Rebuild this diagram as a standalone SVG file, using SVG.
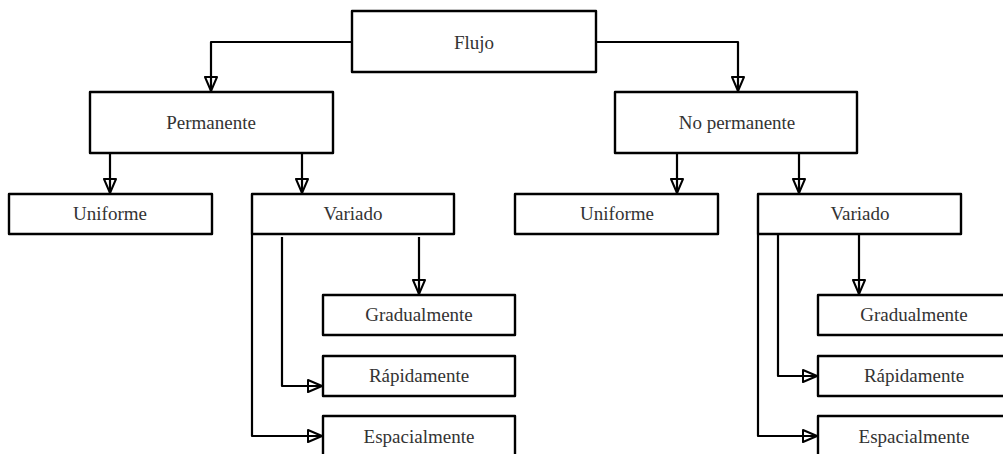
<svg xmlns="http://www.w3.org/2000/svg" width="1003" height="454" viewBox="0 0 1003 454">
<style>
.box{fill:#fff;stroke:#000;stroke-width:2.4;stroke-linejoin:round}
.t{font-family:'Liberation Serif','DejaVu Serif',serif;font-size:19px;fill:#333;text-anchor:middle;dominant-baseline:central}
.c{fill:none;stroke:#000;stroke-width:2.2;stroke-linejoin:round}
</style>
<defs>
<marker id="ah" viewBox="0 0 16 14" refX="15" refY="7" markerWidth="16" markerHeight="14" markerUnits="userSpaceOnUse" orient="auto">
<path d="M1,1 L15,7 L1,13 Z" fill="none" stroke="#000" stroke-width="2" stroke-linejoin="round"/>
</marker>
</defs>
<g id="connectors">
<path class="c" marker-end="url(#ah)" d="M352,42 H211 V91"/>
<path class="c" marker-end="url(#ah)" d="M596,42 H738 V91"/>
<path class="c" marker-end="url(#ah)" d="M110,153 V193"/>
<path class="c" marker-end="url(#ah)" d="M302,153 V193"/>
<path class="c" marker-end="url(#ah)" d="M419,237 V294"/>
<path class="c" marker-end="url(#ah)" d="M282,237 V386 H322"/>
<path class="c" marker-end="url(#ah)" d="M252,234 V436 H322"/>
<path class="c" marker-end="url(#ah)" d="M677,153 V193"/>
<path class="c" marker-end="url(#ah)" d="M799,153 V193"/>
<path class="c" marker-end="url(#ah)" d="M859,234 V294"/>
<path class="c" marker-end="url(#ah)" d="M778,234 V376 H817"/>
<path class="c" marker-end="url(#ah)" d="M758,234 V436 H817"/>
</g>
<g id="flujo"><rect class="box" x="352" y="11" width="244" height="61"/><text class="t" x="474" y="42" font-family="Liberation Serif, serif">Flujo</text></g>
<g id="permanente"><rect class="box" x="90" y="92" width="243" height="61"/><text class="t" x="211" y="122" font-family="Liberation Serif, serif">Permanente</text></g>
<g id="no-permanente"><rect class="box" x="615" y="92" width="242" height="61"/><text class="t" x="737" y="122" font-family="Liberation Serif, serif">No permanente</text></g>
<g id="uniforme-l"><rect class="box" x="9" y="194" width="203" height="40"/><text class="t" x="110" y="213" font-family="Liberation Serif, serif">Uniforme</text></g>
<g id="variado-l"><rect class="box" x="252" y="194" width="202" height="40"/><text class="t" x="353" y="213" font-family="Liberation Serif, serif">Variado</text></g>
<g id="gradualmente-l"><rect class="box" x="323" y="295" width="192" height="40"/><text class="t" x="419" y="314" font-family="Liberation Serif, serif">Gradualmente</text></g>
<g id="rapidamente-l"><rect class="box" x="323" y="356" width="192" height="40"/><text class="t" x="419" y="375" font-family="Liberation Serif, serif">Rápidamente</text></g>
<g id="espacialmente-l"><rect class="box" x="323" y="416" width="192" height="42"/><text class="t" x="419" y="436" font-family="Liberation Serif, serif">Espacialmente</text></g>
<g id="uniforme-r"><rect class="box" x="515" y="194" width="203" height="40"/><text class="t" x="617" y="213" font-family="Liberation Serif, serif">Uniforme</text></g>
<g id="variado-r"><rect class="box" x="758" y="194" width="203" height="40"/><text class="t" x="860" y="213" font-family="Liberation Serif, serif">Variado</text></g>
<g id="gradualmente-r"><rect class="box" x="818" y="295" width="192" height="40"/><text class="t" x="914" y="314" font-family="Liberation Serif, serif">Gradualmente</text></g>
<g id="rapidamente-r"><rect class="box" x="818" y="356" width="192" height="40"/><text class="t" x="914" y="375" font-family="Liberation Serif, serif">Rápidamente</text></g>
<g id="espacialmente-r"><rect class="box" x="818" y="416" width="192" height="42"/><text class="t" x="914" y="436" font-family="Liberation Serif, serif">Espacialmente</text></g>
</svg>
